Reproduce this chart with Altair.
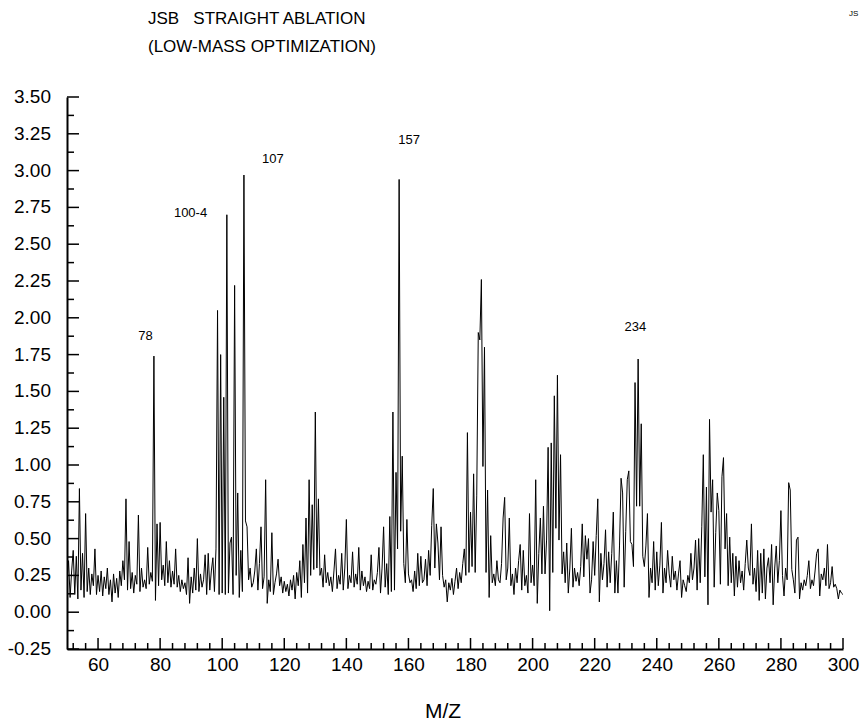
import altair as alt
import pandas as pd

# Spectrum intensity sampled every 0.5 m/z, from m/z 50.0
seg_050_099 = [
    0.22, 0.35, 0.10, 0.28, 0.42, 0.12, 0.38, 0.09, 0.84, 0.15,
    0.40, 0.10, 0.67, 0.14, 0.30, 0.12, 0.26, 0.18, 0.43, 0.12,
    0.25, 0.14, 0.28, 0.11, 0.24, 0.16, 0.30, 0.12, 0.22, 0.07,
    0.26, 0.13, 0.23, 0.10, 0.28, 0.18, 0.35, 0.22, 0.77, 0.15,
    0.48, 0.16, 0.27, 0.13, 0.25, 0.19, 0.66, 0.14, 0.30, 0.17,
    0.22, 0.16, 0.44, 0.19, 0.27, 0.21, 1.74, 0.08, 0.60, 0.18,
    0.61, 0.22, 0.32, 0.18, 0.48, 0.20, 0.35, 0.17, 0.28, 0.19,
    0.43, 0.17, 0.25, 0.14, 0.22, 0.16, 0.20, 0.12, 0.37, 0.06,
    0.24, 0.13, 0.30, 0.15, 0.50, 0.14, 0.26, 0.17, 0.22, 0.39,
    0.12, 0.40, 0.15, 0.28, 0.37, 0.14, 0.43, 2.05, 0.12, 1.75,
]
seg_100_149 = [
    0.13, 1.46, 0.12, 2.70, 0.13, 0.47, 0.51, 0.12, 2.22, 0.25,
    0.81, 0.10, 0.42, 0.14, 2.97, 0.62, 0.58, 0.22, 0.30, 0.17,
    0.20, 0.28, 0.43, 0.15, 0.33, 0.58, 0.16, 0.24, 0.90, 0.06,
    0.22, 0.14, 0.54, 0.12, 0.20, 0.26, 0.36, 0.18, 0.24, 0.13,
    0.21, 0.14, 0.19, 0.11, 0.22, 0.15, 0.25, 0.09, 0.27, 0.18,
    0.35, 0.10, 0.46, 0.20, 0.64, 0.13, 0.90, 0.25, 0.73, 0.29,
    1.36, 0.30, 0.77, 0.25, 0.30, 0.17, 0.39, 0.20, 0.27, 0.18,
    0.24, 0.14, 0.28, 0.43, 0.16, 0.25, 0.19, 0.40, 0.15, 0.30,
    0.63, 0.16, 0.25, 0.20, 0.41, 0.17, 0.26, 0.19, 0.44, 0.15,
    0.28, 0.18, 0.24, 0.14, 0.21, 0.16, 0.39, 0.15, 0.22, 0.19,
]
seg_150_199 = [
    0.27, 0.44, 0.13, 0.30, 0.58, 0.17, 0.33, 0.12, 0.65, 0.14,
    1.36, 0.15, 0.95, 0.43, 2.94, 0.55, 1.06, 0.33, 0.20, 0.63,
    0.26, 0.20, 0.22, 0.14, 0.28, 0.16, 0.40, 0.18, 0.38, 0.20,
    0.22, 0.36, 0.18, 0.42, 0.25, 0.59, 0.84, 0.30, 0.60, 0.47,
    0.22, 0.58, 0.25, 0.17, 0.22, 0.07, 0.20, 0.15, 0.23, 0.12,
    0.21, 0.30, 0.16, 0.27, 0.20, 0.33, 0.43, 0.25, 1.22, 0.27,
    0.68, 0.31, 0.94, 0.27, 0.79, 1.90, 1.85, 2.26, 0.99, 1.80,
    0.27, 0.83, 0.10, 0.52, 0.20, 0.26, 0.18, 0.35, 0.22, 0.20,
    0.33, 0.64, 0.78, 0.22, 0.30, 0.64, 0.18, 0.26, 0.12, 0.30,
    0.20, 0.35, 0.46, 0.15, 0.42, 0.18, 0.25, 0.13, 0.67, 0.20,
]
seg_200_249 = [
    0.32, 0.18, 0.90, 0.06, 0.40, 0.64, 0.26, 0.72, 0.26, 0.49,
    1.12, 0.01, 1.15, 0.27, 1.47, 0.57, 1.61, 0.49, 1.07, 0.26,
    0.41, 0.20, 0.47, 0.13, 0.30, 0.57, 0.17, 0.30, 0.21, 0.27,
    0.18, 0.31, 0.60, 0.24, 0.52, 0.36, 0.50, 0.13, 0.22, 0.48,
    0.25, 0.52, 0.77, 0.07, 0.40, 0.22, 0.33, 0.56, 0.17, 0.41,
    0.20, 0.40, 0.68, 0.13, 0.35, 0.13, 0.45, 0.91, 0.81, 0.17,
    0.55, 0.90, 0.96, 0.48, 0.46, 0.31, 1.56, 0.72, 1.72, 0.72,
    1.28, 0.38, 0.31, 0.45, 0.67, 0.10, 0.30, 0.20, 0.48, 0.15,
    0.41, 0.18, 0.32, 0.61, 0.13, 0.30, 0.20, 0.42, 0.26, 0.17,
    0.38, 0.22, 0.28, 0.15, 0.26, 0.35, 0.10, 0.22, 0.18, 0.14,
]
seg_250_300 = [
    0.25, 0.20, 0.40, 0.22, 0.30, 0.49, 0.15, 0.50, 0.20, 0.58,
    1.07, 0.24, 0.85, 0.05, 1.31, 0.68, 0.90, 0.17, 0.54, 0.81,
    0.69, 0.19, 0.92, 1.05, 0.43, 0.67, 0.18, 0.51, 0.20, 0.40,
    0.11, 0.38, 0.17, 0.35, 0.20, 0.28, 0.15, 0.33, 0.49, 0.30,
    0.25, 0.60, 0.19, 0.30, 0.14, 0.42, 0.08, 0.40, 0.13, 0.43,
    0.09, 0.30, 0.37, 0.20, 0.46, 0.05, 0.30, 0.45, 0.20, 0.35,
    0.69, 0.25, 0.11, 0.30, 0.22, 0.88, 0.83, 0.29, 0.22, 0.13,
    0.49, 0.51, 0.09, 0.20, 0.15, 0.22, 0.18, 0.25, 0.35, 0.16,
    0.22, 0.18, 0.28, 0.40, 0.43, 0.11, 0.26, 0.22, 0.30, 0.18,
    0.46, 0.16, 0.20, 0.31, 0.17, 0.19, 0.16, 0.09, 0.15, 0.13,
    0.12,
]
intensity = seg_050_099 + seg_100_149 + seg_150_199 + seg_200_249 + seg_250_300
mz_start, mz_step = 50.0, 0.5
mz = [mz_start + mz_step * i for i in range(len(intensity))]

# Peak annotations
peak_labels = ["78", "100-4", "107", "157", "234"]
peak_label_mz = [75.3, 89.8, 116.3, 160.2, 233.1]
peak_label_v = [1.875, 2.71, 3.08, 3.21, 1.94]

# Axis ticks
x_label_ticks = [60, 80, 100, 120, 140, 160, 180, 200, 220, 240, 260, 280, 300]
x_minor_ticks = [v for v in range(52, 300, 4) if v not in x_label_ticks]
y_label_ticks = [-0.25, 0.0, 0.25, 0.5, 0.75, 1.0, 1.25, 1.5, 1.75, 2.0,
                 2.25, 2.5, 2.75, 3.0, 3.25, 3.5]
y_label_text = ["-0.25", "0.00", "0.25", "0.50", "0.75", "1.00", "1.25", "1.50",
                "1.75", "2.00", "2.25", "2.50", "2.75", "3.00", "3.25", "3.50"]
y_minor_ticks = [-0.125, 0.125, 0.375, 0.625, 0.875, 1.125, 1.375, 1.625,
                 1.875, 2.125, 2.375, 2.625, 2.875, 3.125, 3.375]

FONT = "Liberation Sans, Arial, sans-serif"
W, H = 776, 552
NB = "\u00a0"

df = pd.DataFrame({"mz": mz, "v": intensity})
xs = alt.Scale(domain=[50, 300], nice=False, zero=False)
ys = alt.Scale(domain=[-0.25, 3.5], nice=False, zero=False)

line = alt.Chart(df).mark_line(color="black", strokeWidth=1, clip=True).encode(
    x=alt.X("mz:Q", scale=xs, title=None,
            axis=alt.Axis(values=x_label_ticks, ticks=False, grid=False,
                          domainColor="black", domainWidth=2,
                          labelFont=FONT, labelFontSize=19, labelColor="black",
                          labelPadding=6, labelFlush=False, labelOverlap=False)),
    y=alt.Y("v:Q", scale=ys, title=None,
            axis=alt.Axis(values=y_label_ticks, ticks=False, grid=False, labels=False,
                          domainColor="black", domainWidth=2)),
)

ylabels = alt.Chart(pd.DataFrame({"t": y_label_ticks, "s": y_label_text})).mark_text(
    font=FONT, fontSize=19, color="black", align="right", baseline="middle").encode(
    y=alt.Y("t:Q", scale=ys), x=alt.value(-16), text="s:N")

xt_major = alt.Chart(pd.DataFrame({"t": x_label_ticks})).mark_rule(
    color="black", strokeWidth=1.5).encode(
    x=alt.X("t:Q", scale=xs), y=alt.value(H), y2=alt.value(H - 11))
xt_minor = alt.Chart(pd.DataFrame({"t": x_minor_ticks})).mark_rule(
    color="black", strokeWidth=1.5).encode(
    x=alt.X("t:Q", scale=xs), y=alt.value(H), y2=alt.value(H - 6))
yt_major = alt.Chart(pd.DataFrame({"t": y_label_ticks})).mark_rule(
    color="black", strokeWidth=1.5).encode(
    y=alt.Y("t:Q", scale=ys), x=alt.value(0), x2=alt.value(12))
yt_minor = alt.Chart(pd.DataFrame({"t": y_minor_ticks})).mark_rule(
    color="black", strokeWidth=1.5).encode(
    y=alt.Y("t:Q", scale=ys), x=alt.value(0), x2=alt.value(7))

peaks = alt.Chart(pd.DataFrame({"label": peak_labels, "mz": peak_label_mz,
                                "v": peak_label_v})).mark_text(
    font=FONT, fontSize=13, color="black", align="center", baseline="middle").encode(
    x=alt.X("mz:Q", scale=xs), y=alt.Y("v:Q", scale=ys), text="label:N")

title1 = alt.Chart(pd.DataFrame({"t": ["JSB" + NB * 3 + "STRAIGHT ABLATION"]})).mark_text(
    font=FONT, fontSize=17, color="black", align="left", baseline="middle").encode(
    x=alt.value(81), y=alt.value(-78), text="t:N")
title2 = alt.Chart(pd.DataFrame({"t": ["(LOW-MASS OPTIMIZATION)"]})).mark_text(
    font=FONT, fontSize=17, color="black", align="left", baseline="middle").encode(
    x=alt.value(81), y=alt.value(-50), text="t:N")
corner = alt.Chart(pd.DataFrame({"t": ["JS"]})).mark_text(
    font=FONT, fontSize=8, color="black", align="left", baseline="middle").encode(
    x=alt.value(782), y=alt.value(-83), text="t:N")
xtitle = alt.Chart(pd.DataFrame({"t": ["M/Z"]})).mark_text(
    font=FONT, fontSize=21, color="black", align="center", baseline="middle").encode(
    x=alt.value(376), y=alt.value(615), text="t:N")

chart = alt.layer(line, ylabels, xt_major, xt_minor, yt_major, yt_minor, peaks,
                  title1, title2, corner, xtitle).properties(
    width=W, height=H,
    autosize=alt.AutoSizeParams(type="none"),
    padding={"left": 67, "top": 97, "right": 21, "bottom": 76},
    background="white",
).configure_view(stroke=None)

chart.save("out.html", embed_options={"renderer": "svg", "actions": False})
